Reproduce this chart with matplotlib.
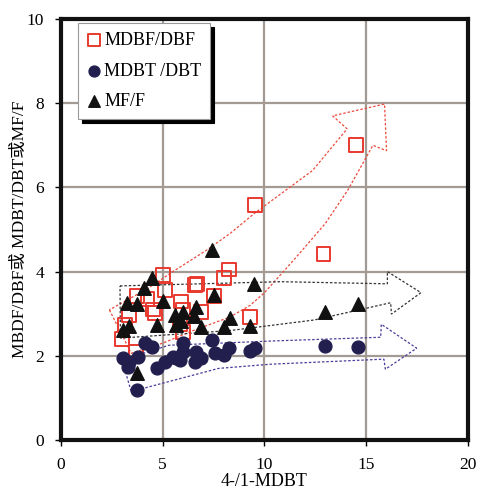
import numpy as np
import matplotlib
matplotlib.use('Agg')
import matplotlib.pyplot as plt
from matplotlib.patches import Polygon

plt.rcParams['font.family'] = ['Liberation Serif', 'Noto Sans CJK SC']

# MDBF/DBF (open squares)
mdbf_x = [14.5, 9.55, 12.9, 9.3, 8.25, 8.0, 6.6, 6.7, 7.5, 5.0, 5.1, 5.9,
          3.75, 4.25, 4.5, 4.6, 6.0, 6.9, 3.35, 3.15, 5.85, 6.0, 3.0, 3.7]
mdbf_y = [7.0, 5.58, 4.42, 2.93, 4.05, 3.85, 3.68, 3.70, 3.43, 3.92, 3.56, 3.29,
          3.42, 3.35, 3.10, 3.02, 3.08, 3.04, 2.97, 2.73, 2.76, 2.56, 2.40, 2.10]

# MDBT/DBT (circles)
mdbt_x = [3.05, 3.35, 3.3, 3.8, 4.15, 4.45, 3.75, 4.7, 5.1, 5.65, 5.85, 6.0, 6.0,
          6.65, 6.9, 6.6, 7.4, 7.55, 8.0, 8.25, 9.3, 9.55, 12.95, 14.6, 5.5]
mdbt_y = [1.95, 1.86, 1.74, 1.98, 2.30, 2.22, 1.18, 1.70, 1.86, 1.94, 1.90, 2.30, 2.10,
          2.10, 1.94, 1.86, 2.38, 2.06, 2.02, 2.18, 2.12, 2.18, 2.24, 2.22, 1.98]

# MF/F (triangles)
mf_x = [7.4, 4.45, 4.1, 5.0, 3.25, 3.75, 7.5, 9.5, 6.0, 5.6, 6.65, 6.55, 5.9, 5.65,
        4.7, 6.9, 8.3, 8.0, 9.3, 3.35, 3.05, 3.75, 12.95, 14.6]
mf_y = [4.52, 3.85, 3.60, 3.30, 3.25, 3.22, 3.44, 3.70, 3.05, 2.97, 3.16, 2.95, 2.82, 2.73,
        2.73, 2.68, 2.89, 2.68, 2.71, 2.70, 2.62, 1.58, 3.05, 3.23]

# trend arrows (outline vertices, data units)
red_arrow = [(2.38, 3.09), (3.45, 2.06), (5.0, 2.3), (6.5, 2.6), (8.3, 2.92), (9.3, 3.2),
             (10.0, 3.5), (11.3, 4.2), (12.2, 4.7), (13.0, 5.15), (14.1, 5.94), (15.33, 7.0),
             (16.0, 6.87), (15.9, 7.98), (13.35, 7.70), (14.06, 7.39), (12.36, 6.40),
             (9.55, 5.40), (8.32, 4.91), (7.16, 4.51), (5.5, 4.0), (4.27, 3.60)]
black_arrow = [(2.9, 3.66), (10.8, 3.76), (16.04, 3.71), (16.04, 4.0), (17.69, 3.5),
               (16.24, 2.99), (16.2, 3.26), (12.44, 2.85), (8.32, 2.60), (2.92, 2.42)]
navy_arrow = [(3.0, 1.9), (5.3, 2.25), (10.3, 2.35), (15.71, 2.44), (15.74, 2.75),
              (17.48, 2.18), (15.94, 1.68), (15.87, 1.92), (10.3, 1.80), (7.74, 1.70),
              (3.45, 1.15)]

fig = plt.figure(figsize=(4.78, 4.91), dpi=100)
ax = fig.add_axes([0.1276, 0.1039, 0.8514, 0.8574])

ax.set_xlim(0, 20)
ax.set_ylim(0, 10)
ax.set_xticks([0, 5, 10, 15, 20])
ax.set_yticks([0, 2, 4, 6, 8, 10])
ax.grid(True, color='#a39a93', linewidth=1.6)
ax.set_axisbelow(True)
for s in ax.spines.values():
    s.set_linewidth(3)
    s.set_color('#111111')
ax.tick_params(direction='out', length=4, width=1, labelsize=12.5, pad=8)

for pts, col in [(red_arrow, '#ec4a3c'), (black_arrow, '#333333'), (navy_arrow, '#4a3d9a')]:
    ax.add_patch(Polygon(pts, closed=True, fill=False, edgecolor=col,
                         linestyle=(0, (2, 1.5)), linewidth=0.9, zorder=1.5))

ax.scatter(mdbf_x, mdbf_y, marker='s', s=100, facecolors='none', edgecolors='#e8392f',
           linewidths=1.4, label='MDBF/DBF', zorder=3)
ax.scatter(mdbt_x, mdbt_y, marker='o', s=85, color='#221f4f', label='MDBT /DBT', zorder=4)
ax.scatter(mf_x, mf_y, marker='^', s=95, color='#111111', label='MF/F', zorder=5)

leg = ax.legend(loc='upper left', bbox_to_anchor=(78 / 478, 1 - 23 / 491),
                bbox_transform=fig.transFigure, borderaxespad=0, fontsize=13,
                frameon=True, fancybox=False, edgecolor='#999999', framealpha=1,
                shadow={'color': 'black', 'alpha': 1, 'ox': 3, 'oy': -3},
                handletextpad=0.15, borderpad=0.5, labelspacing=0.75, markerscale=0.85,
                handlelength=0.8)
leg.get_frame().set_linewidth(0.8)

ax.set_xlabel('4-/1-MDBT', fontsize=13, labelpad=0)
ax.set_ylabel('MBDF/DBF或 MDBT/DBT或MF/F', fontsize=12.5, labelpad=-1)

fig.savefig('out.png', dpi=100)
